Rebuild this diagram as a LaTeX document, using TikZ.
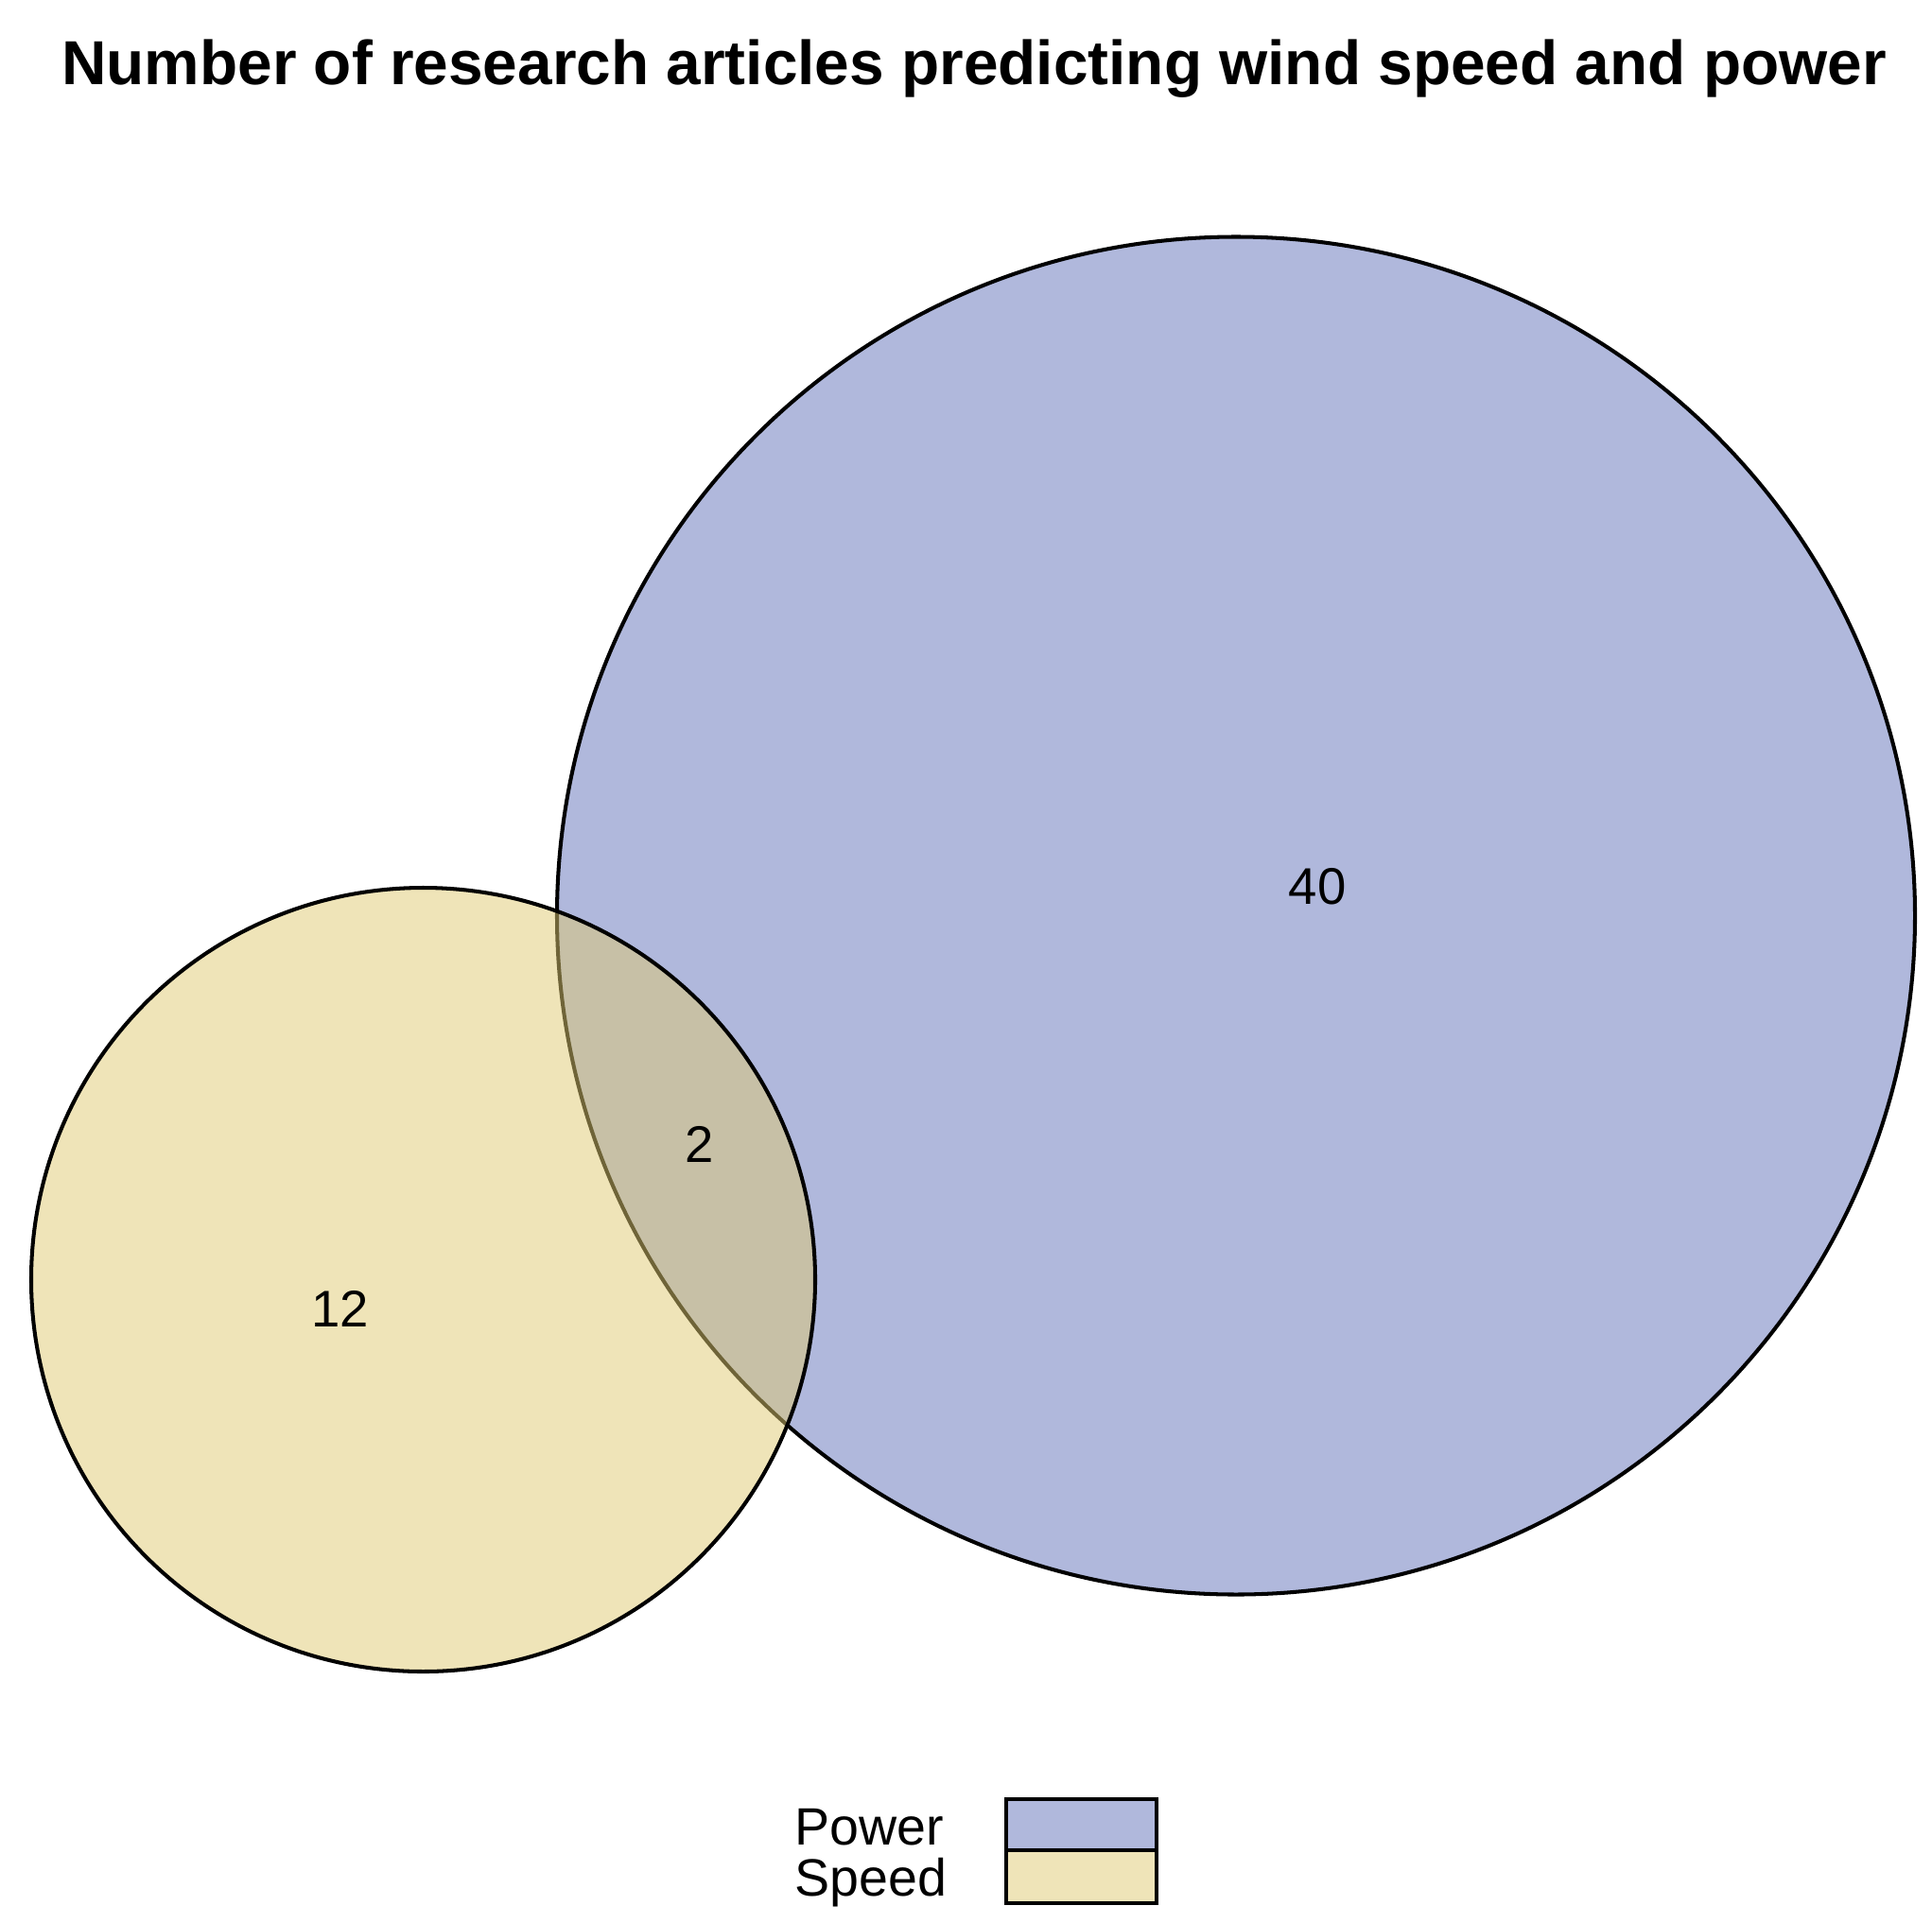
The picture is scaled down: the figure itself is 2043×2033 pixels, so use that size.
\documentclass[tikz,border=0pt]{standalone}
\usepackage{fontspec}
\setmainfont{Liberation Sans}
\definecolor{powerblue}{RGB}{176,184,220}
\definecolor{speedyellow}{RGB}{223,201,113}
\definecolor{speedsolid}{RGB}{239,228,184}
\begin{document}
\begin{tikzpicture}[x=0.01cm,y=-0.01cm,
  ring/.style={draw=black,line width=1.15pt},
  numlabel/.style={font=\fontsize{15.5}{18}\selectfont,inner sep=0pt},
  legtext/.style={font=\fontsize{15.8}{18}\selectfont,inner sep=0pt,anchor=base west},
  legbox/.style={draw=black,line width=1.0pt}]
\useasboundingbox (0,0) rectangle (2043,2033);
\node[font=\bfseries\fontsize{18.7}{22}\selectfont,inner sep=0pt,anchor=base] (title) at (1030,89) {Number of research articles predicting wind speed and power};
% Power circle
\draw[ring,fill=powerblue] (1307,968.5) circle[radius=718];
% Speed circle (semi-transparent fill)
\fill[speedyellow,fill opacity=0.5] (447.5,1353.5) circle[radius=414.5];
\draw[ring] (447.5,1353.5) circle[radius=414.5];
\node[numlabel] (n40) at (1393,937.5) {40};
\node[numlabel] (n2) at (740,1210) {2};
\node[numlabel] (n12) at (360,1384) {12};
% legend
\draw[legbox,fill=powerblue] (1064,1903) rectangle (1223,1957);
\draw[legbox,fill=speedsolid] (1064,1957) rectangle (1223,2013);
\node[legtext] (lp) at (840,1951) {Power};
\node[legtext] (ls) at (840,2005) {Speed};
\end{tikzpicture}
\end{document}
